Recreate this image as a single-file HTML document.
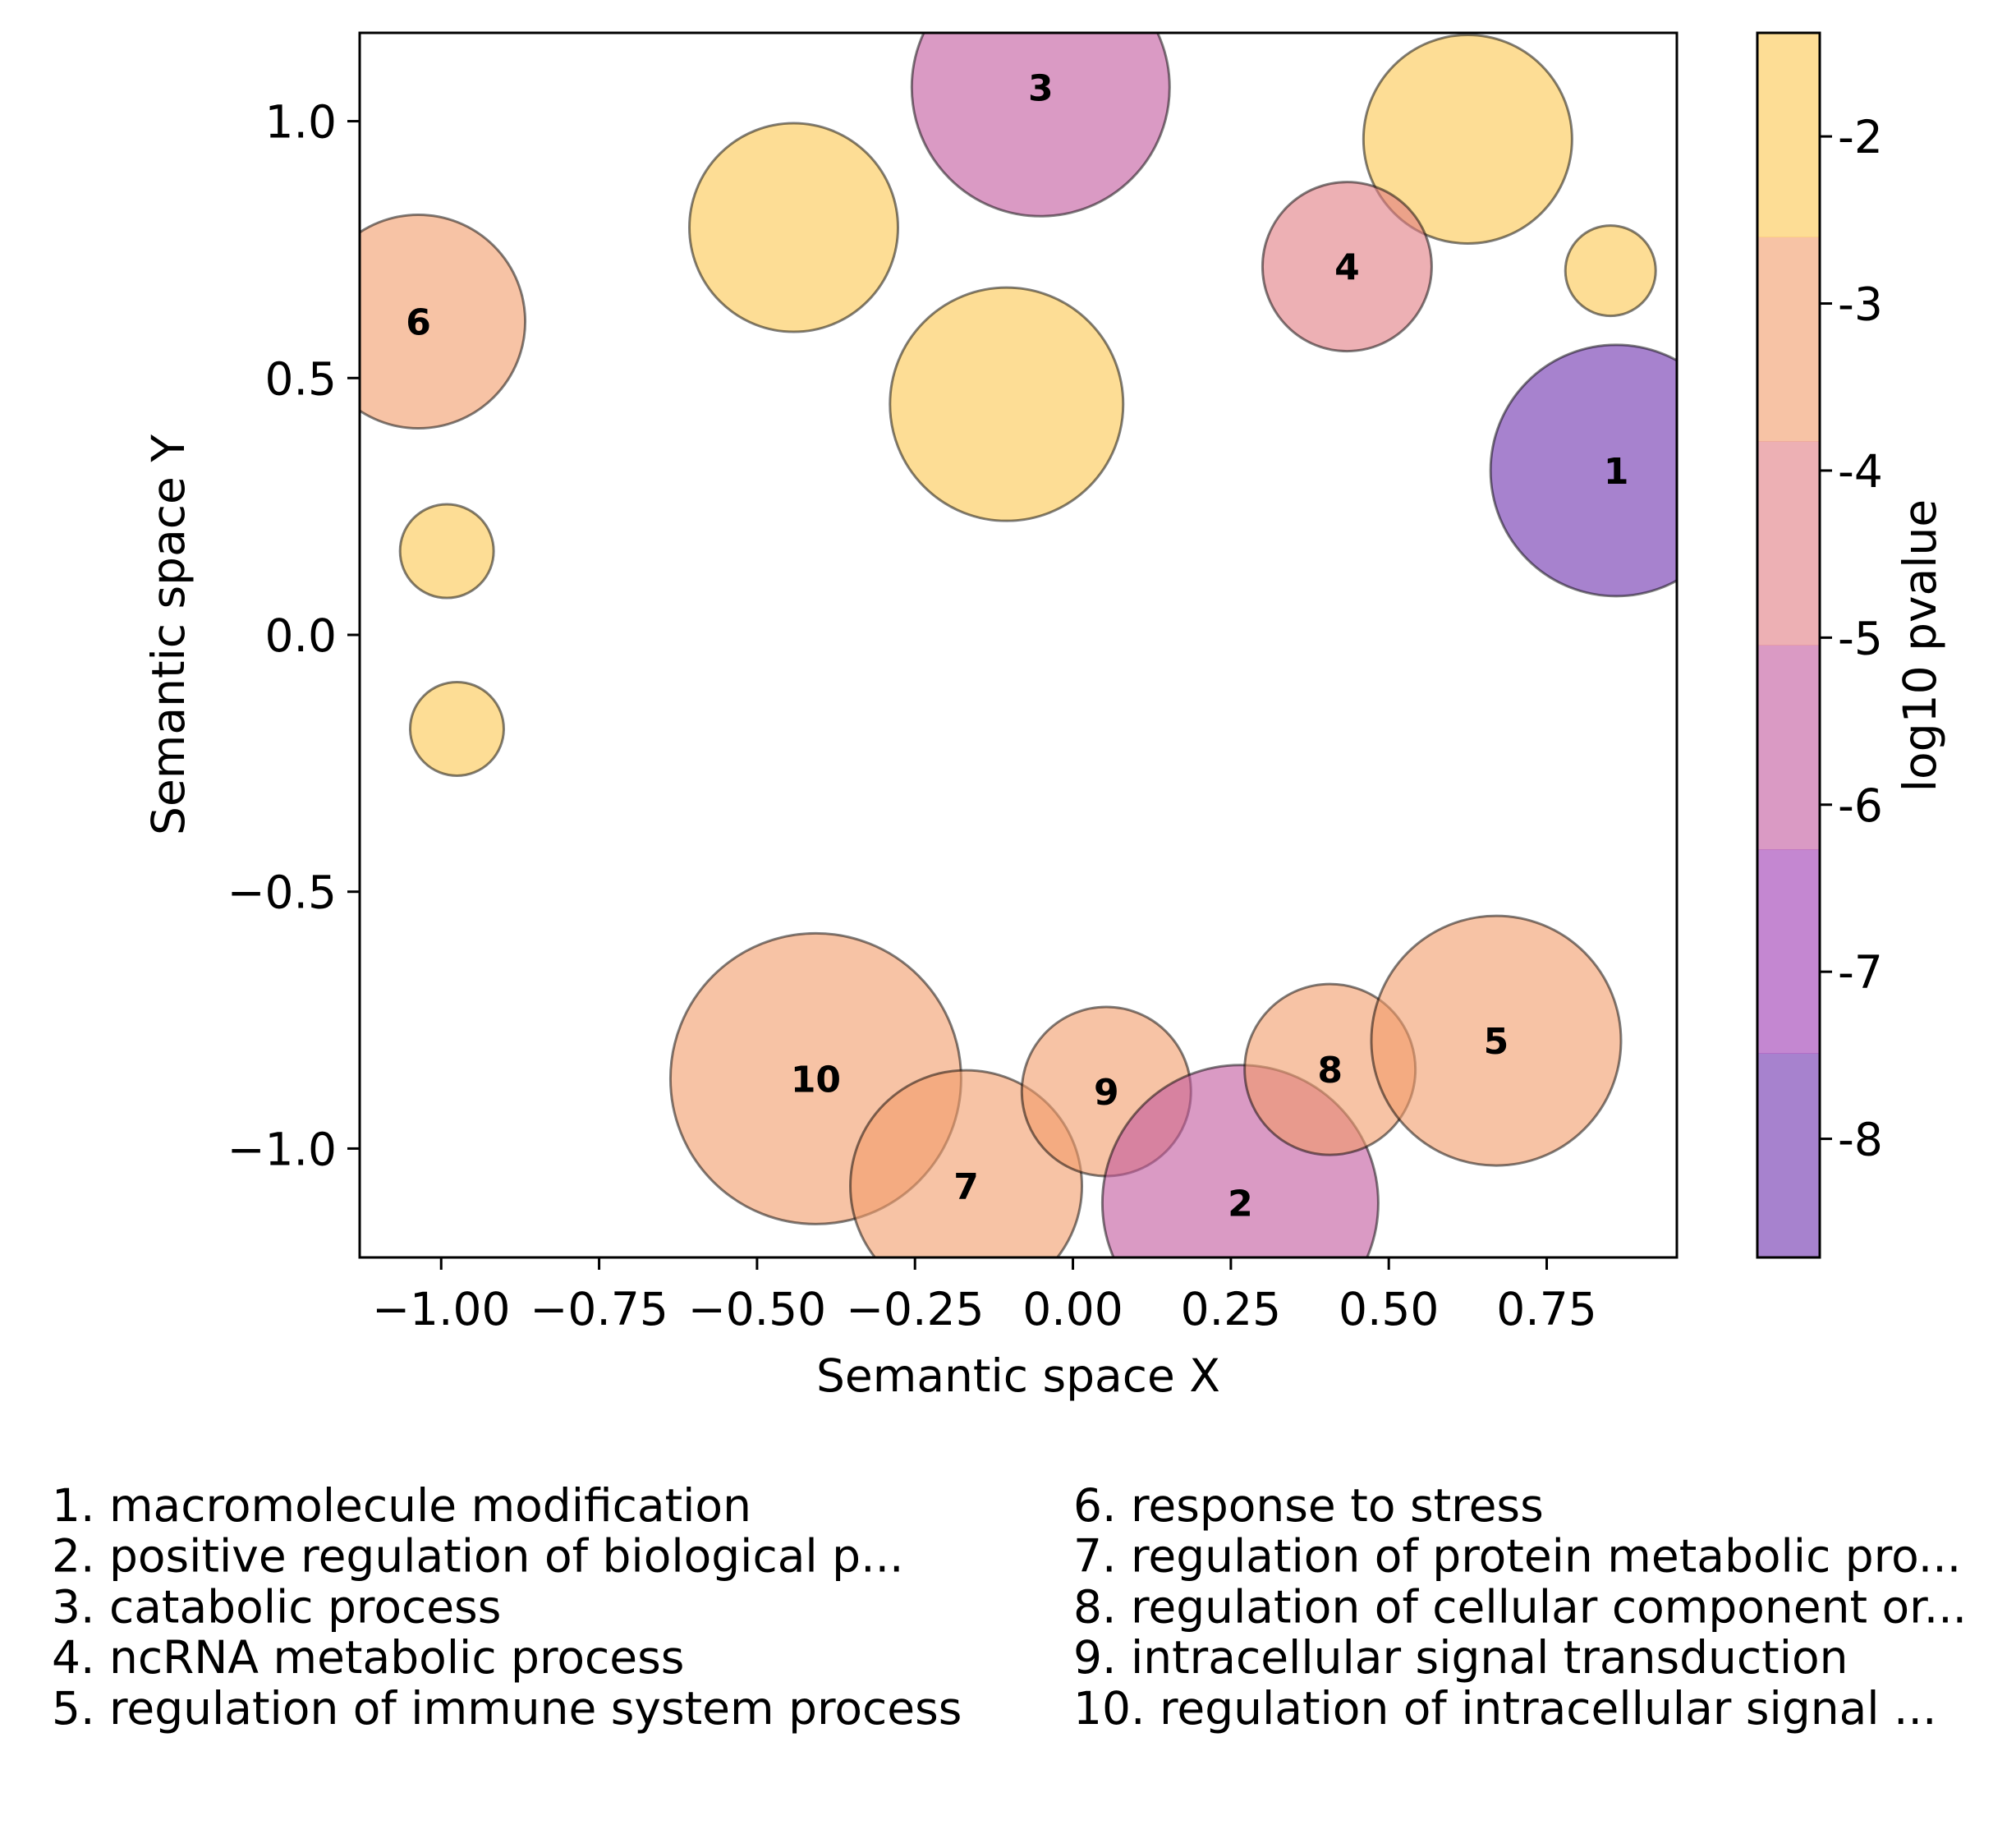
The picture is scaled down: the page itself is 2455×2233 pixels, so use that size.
<!DOCTYPE html>
<html><head><meta charset="utf-8">
<style>
html,body{margin:0;padding:0;background:#fff;}
svg{display:block;font-family:"DejaVu Sans","Liberation Sans",sans-serif;}
</style></head>
<body>
<svg id="chart" width="2455" height="2233" viewBox="0 0 2455 2233" xmlns="http://www.w3.org/2000/svg">
<rect width="2455" height="2233" fill="#fff"/>
<g id="bubbles"></g>
<g id="labels"></g>
<rect x="438" y="40" width="1604" height="1491" fill="none" stroke="#000" stroke-width="3"/>
<g id="xticks"></g>
<g id="yticks"></g>
<text x="1240" y="1694" font-size="55" text-anchor="middle">Semantic space X</text>
<text x="0" y="0" font-size="55" text-anchor="middle" transform="translate(224,773) rotate(-90)">Semantic space Y</text>
<g id="cbar"></g>
<text x="0" y="0" font-size="55" text-anchor="middle" transform="translate(2357,786) rotate(-90)">log10 pvalue</text>
<g id="legend"></g>
</svg>
<script>
const termLabels = ["1","2","3","4","5","6","7","8","9","10","","","","","",""];
const xs = [0.86,0.265,-0.051,0.434,0.67,-1.036,-0.169,0.407,0.053,-0.407,-0.442,-0.105,0.625,0.851,-0.991,-0.975];
const ys = [0.32,-1.106,1.066,0.717,-0.79,0.61,-1.073,-0.846,-0.889,-0.864,0.793,0.449,0.965,0.709,0.163,-0.183];
const bubbleSize = [153,168,157,103,152,130,141,104,103,177,127,142,127,55,57,57];
const logp = [-8.2,-5.8,-5.8,-4.5,-3.2,-3.2,-3.2,-3.2,-3.2,-3.2,-2,-2,-2,-2,-2,-2];
const drawOrder = [10,11,12,13,14,15,0,2,3,5,9,6,8,1,7,4];
const xTickVals = [-1,-0.75,-0.5,-0.25,0,0.25,0.5,0.75];
const xTickText = ["−1.00","−0.75","−0.50","−0.25","0.00","0.25","0.50","0.75"];
const yTickVals = [1,0.5,0,-0.5,-1];
const yTickText = ["1.0","0.5","0.0","−0.5","−1.0"];
const cbTickVals = [-2,-3,-4,-5,-6,-7,-8];
const cbTickText = ["-2","-3","-4","-5","-6","-7","-8"];
const legendItems = ["1. macromolecule modification","2. positive regulation of biological p...","3. catabolic process","4. ncRNA metabolic process","5. regulation of immune system process","6. response to stress","7. regulation of protein metabolic pro...","8. regulation of cellular component or...","9. intracellular signal transduction","10. regulation of intracellular signal ..."];

const NS="http://www.w3.org/2000/svg";
const X0=438,X1=2042,Y0=40,Y1=1531,XMIN=-1.129,XMAX=0.956,YMIN=-1.212,YMAX=1.172;
const CMIN=-8.71,CMAX=-1.38;
const binColors=["#6C2FAD","#9D37B2","#C1579D","#E17B82","#F29B69","#FCC64E"];
function sx(v){return X0+(v-XMIN)/(XMAX-XMIN)*(X1-X0);}
function sy(v){return Y1-(v-YMIN)/(YMAX-YMIN)*(Y1-Y0);}
function cy(v){return Y0+(CMAX-v)/(CMAX-CMIN)*(Y1-Y0);}
function colorFor(v){let k=Math.floor((v-CMIN)/(CMAX-CMIN)*6);k=Math.max(0,Math.min(5,k));return binColors[k];}
function mk(tag,attrs,parent){const e=document.createElementNS(NS,tag);for(const k in attrs)e.setAttribute(k,attrs[k]);parent.appendChild(e);return e;}

const gB=document.getElementById('bubbles'),gL=document.getElementById('labels');
const clip=mk('clipPath',{id:'plotclip'},document.getElementById('chart'));
mk('rect',{x:X0,y:Y0,width:X1-X0,height:Y1-Y0},clip);
gB.setAttribute('clip-path','url(#plotclip)');
drawOrder.forEach(i=>{
  const c=mk('circle',{cx:sx(xs[i]),cy:sy(ys[i]),r:bubbleSize[i],fill:colorFor(logp[i]),'fill-opacity':0.6,stroke:'#000','stroke-opacity':0.5,'stroke-width':3},gB);
  
  
});
xs.forEach((v,i)=>{
  if(!termLabels[i])return;
  const t=mk('text',{x:sx(xs[i]),y:sy(ys[i])+16,'font-size':44,'font-weight':'bold','text-anchor':'middle'},gL);
  t.textContent=termLabels[i];
  
  
});
const gX=document.getElementById('xticks');
xTickVals.forEach((v,i)=>{
  const x=sx(v);
  const l=mk('line',{x1:x,x2:x,y1:Y1,y2:Y1+15,stroke:'#000','stroke-width':3},gX);
  
  
  const t=mk('text',{x:x,y:Y1+82,'font-size':55,'text-anchor':'middle'},gX);
  t.textContent=xTickText[i];
  
  
});
const gY=document.getElementById('yticks');
yTickVals.forEach((v,i)=>{
  const y=sy(v);
  const l=mk('line',{x1:X0-15,x2:X0,y1:y,y2:y,stroke:'#000','stroke-width':3},gY);
  
  
  const t=mk('text',{x:X0-28,y:y+20,'font-size':55,'text-anchor':'end'},gY);
  t.textContent=yTickText[i];
  
  
});
const gC=document.getElementById('cbar');
const CX0=2140,CX1=2216;
binColors.forEach((c,k)=>{
  const vlo=CMIN+k*(CMAX-CMIN)/6,vhi=CMIN+(k+1)*(CMAX-CMIN)/6;
  const r=mk('rect',{x:CX0,y:cy(vhi),width:CX1-CX0,height:cy(vlo)-cy(vhi)+0.5,fill:c,'fill-opacity':0.6},gC);
  
  
});
const fr=mk('rect',{x:CX0,y:Y0,width:CX1-CX0,height:Y1-Y0,fill:'none',stroke:'#000','stroke-width':3},gC);


cbTickVals.forEach((v,i)=>{
  const y=cy(v);
  const l=mk('line',{x1:CX1,x2:CX1+15,y1:y,y2:y,stroke:'#000','stroke-width':3},gC);
  
  
  const t=mk('text',{x:CX1+22,y:y+20,'font-size':55},gC);
  t.textContent=cbTickText[i];
  
  
});
const gLeg=document.getElementById('legend');
legendItems.forEach((s,i)=>{
  const col=Math.floor(i/5),row=i%5;
  const t=mk('text',{x:col?1307:63,y:1852+row*61.7,'font-size':55},gLeg);
  t.textContent=s;
  
  
});
</script>
</body></html>
